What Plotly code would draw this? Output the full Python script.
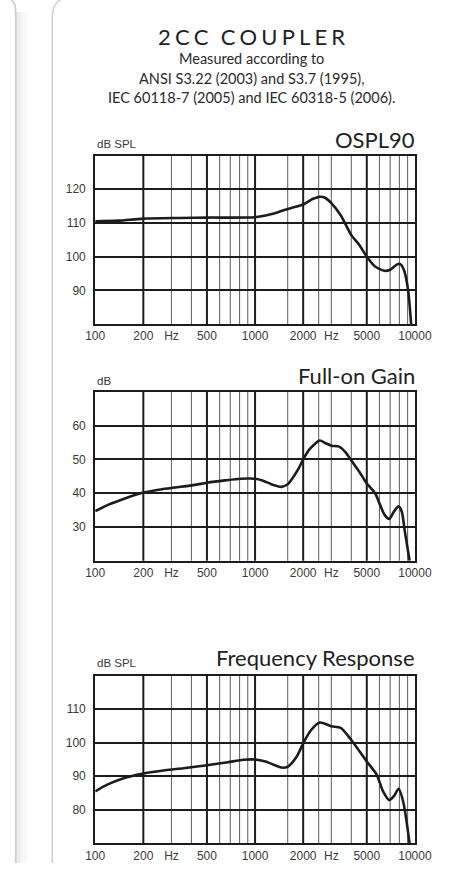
import math
import plotly.graph_objects as go

# page is 462 x 879; the figure sits inside the default 8 px body margin
PAGE_W, PAGE_H = 462, 879
OFF = 8
W, H = PAGE_W - 2 * OFF, PAGE_H - 2 * OFF

# ---- measured curves (Hz, dB) ----
ospl_freq = [100, 140, 200, 344, 500, 1000, 1163, 1392, 1669, 2000, 2287, 2540, 2740,
             3000, 3434, 4000, 4500, 5000, 5641, 6460, 7000, 7730, 8100, 8530, 9058, 9470]
ospl_db = [110.5, 110.7, 111.3, 111.5, 111.6, 111.7, 112.2, 113.2, 114.4, 115.5, 117.1, 117.8, 117.5,
           115.9, 112.3, 106.4, 103.4, 100.0, 97.1, 95.8, 96.1, 97.7, 97.8, 96.1, 90.2, 80.0]

gain_freq = [100, 122, 146, 200, 262, 412, 500, 647, 811, 1000, 1112, 1273, 1458, 1594, 1706,
             1867, 2000, 2188, 2541, 2740, 3000, 3356, 3673, 4000, 4500, 5000, 5641, 6000,
             6460, 6916, 7396, 7911, 8271, 8650, 9261]
gain_db = [34.7, 36.7, 38.1, 40.2, 41.2, 42.4, 43.1, 43.8, 44.3, 44.3, 43.8, 42.6, 41.9, 42.6, 44.3,
           47.2, 50.0, 53.0, 55.6, 54.9, 54.1, 53.8, 52.2, 49.7, 46.3, 42.9, 40.0, 37.0,
           33.6, 32.4, 34.6, 36.1, 34.6, 28.7, 20.0]

resp_freq = [100, 119, 146, 200, 274, 356, 500, 677, 848, 1000, 1163, 1458, 1594, 1825, 2000,
             2236, 2540, 3000, 3434, 4000, 5000, 5766, 6310, 6916, 7396, 7911, 8471, 9260]
resp_db = [85.5, 87.5, 89.2, 90.8, 91.8, 92.4, 93.3, 94.2, 94.9, 95.0, 94.4, 92.6, 92.8, 95.9, 99.8,
           103.7, 106.0, 104.9, 104.4, 100.8, 94.4, 90.5, 85.6, 82.9, 84.1, 86.3, 82.2, 70.0]

# ---- axes annotations ----
freq_tickvals = [100, 200, 300, 500, 1000, 2000, 3000, 5000, 10000]
freq_ticktext = ["100", "200", "Hz", "500", "1000", "2000", "Hz", "5000", "10000"]
major_grid = [200, 500, 1000, 2000, 5000]
minor_grid = [300, 400, 600, 700, 800, 900, 1600, 2500, 3000, 4000, 6000, 7000, 8000, 9000]

panels = [
    dict(title="OSPL90", unit="dB SPL", freq=ospl_freq, db=ospl_db,
         yrange=[80, 130], yticks=[90, 100, 110, 120], top=164.7, bottom=334.3, title_y=148, unit_y=153),
    dict(title="Full-on Gain", unit="dB", freq=gain_freq, db=gain_db,
         yrange=[20, 70], yticks=[30, 40, 50, 60], top=402.7, bottom=572.7, title_y=386, unit_y=391.5),
    dict(title="Frequency Response", unit="dB SPL", freq=resp_freq, db=resp_db,
         yrange=[70, 120], yticks=[80, 90, 100, 110], top=688.3, bottom=857.3, title_y=670, unit_y=675.5),
]

PLOT_L, PLOT_R = 98.7, 439.0
INK = "#1c1c1c"
LABEL = "#3a3a3a"
TICK_FONT = dict(family="Liberation Sans Narrow, Arial Narrow, Liberation Sans, Arial", size=12, color=LABEL)
HEAD_FONT = "Lato, Noto Sans, sans-serif"


def px(x):
    # page pixel -> paper fraction
    return (x - OFF) / W


def py(y):
    return 1 - (y - OFF) / H


def freq_to_paper(f):
    # log-frequency position across the 100 Hz - 10 kHz span
    frac = (math.log10(f) - 2.0) / 2.0
    return px(PLOT_L + frac * (PLOT_R - PLOT_L))


fig = go.Figure()
shapes = []
annotations = []

for i, p in enumerate(panels, start=1):
    sx = "" if i == 1 else str(i)
    xa, ya = "x" + sx, "y" + sx
    fig.add_trace(go.Scatter(
        x=p["freq"], y=p["db"], mode="lines", xaxis=xa, yaxis=ya,
        line=dict(color=INK, width=2.6, shape="spline", smoothing=0.7),
        hoverinfo="skip", showlegend=False,
    ))
    dom_y = [py(p["bottom"]), py(p["top"])]
    fig.layout["xaxis" + sx] = dict(
        type="log", range=[2, 4], domain=[px(PLOT_L), px(PLOT_R)], anchor=ya,
        tickmode="array", tickvals=freq_tickvals, ticktext=freq_ticktext,
        showgrid=False, zeroline=False, showline=True, mirror=True,
        linecolor=INK, linewidth=2, ticks="", tickfont=TICK_FONT, fixedrange=True,
        ticklabeloverflow="allow",
    )
    fig.layout["yaxis" + sx] = dict(
        range=p["yrange"], domain=dom_y, anchor=xa,
        tickmode="array", tickvals=p["yticks"],
        showgrid=True, gridcolor=INK, gridwidth=1.8, zeroline=False,
        showline=True, mirror=True, linecolor=INK, linewidth=2, ticks="",
        tickfont=TICK_FONT, ticklabelstandoff=5, fixedrange=True,
    )
    for freqs, colour, width in ((minor_grid, "#6a6a6a", 1.1), (major_grid, INK, 2)):
        for f in freqs:
            xp = freq_to_paper(f)
            shapes.append(dict(type="line", xref="paper", yref="paper",
                               x0=xp, x1=xp, y0=dom_y[0], y1=dom_y[1],
                               line=dict(color=colour, width=width), layer="below"))
    annotations.append(dict(text=p["title"], xref="paper", yref="paper",
                            x=px(441.5), y=py(p["title_y"]), xanchor="right", yanchor="middle",
                            showarrow=False,
                            font=dict(family=HEAD_FONT, size=22, color="#222222")))
    annotations.append(dict(text=p["unit"], xref="paper", yref="paper",
                            x=px(98.0), y=py(p["unit_y"]), xanchor="left", yanchor="middle",
                            showarrow=False,
                            font=dict(family=TICK_FONT["family"], size=11.5, color=LABEL)))

# ---- heading ----
gap = "\u2009\u200a"
heading = gap.join("2CC") + gap * 3 + gap.join("COUPLER")
annotations.append(dict(text=heading, xref="paper", yref="paper", x=px(265), y=py(45),
                        xanchor="center", yanchor="middle", showarrow=False,
                        font=dict(family=HEAD_FONT, size=22, color="#222222")))
sub_lines = ["Measured according to",
             "ANSI S3.22 (2003) and S3.7 (1995),",
             "IEC 60118-7 (2005) and IEC 60318-5 (2006)."]
for text, yy in zip(sub_lines, [67, 87, 106.5]):
    annotations.append(dict(text=text, xref="paper", yref="paper", x=px(265), y=py(yy),
                            xanchor="center", yanchor="middle", showarrow=False,
                            font=dict(family=HEAD_FONT, size=14.5, color="#2a2a2a")))


# ---- card outlines ----
def path(points):
    out = []
    for cmd, pts in points:
        coords = " ".join(f"{px(x):.5f},{py(y):.5f}" for x, y in pts)
        out.append(f"{cmd}{coords}")
    return " ".join(out)


card_path = path([("M", [(53, 890)]), ("L", [(53, 26)]), ("Q", [(53, 5), (74, 5)]), ("L", [(475, 5)])])
shapes.append(dict(type="path", xref="paper", yref="paper", path=card_path,
                   line=dict(color="#cfcfcf", width=1.6), layer="below"))

# shadow strip beside the neighbouring card
for k, op in enumerate([0.10, 0.08, 0.06, 0.045, 0.03, 0.018]):
    shapes.append(dict(type="rect", xref="paper", yref="paper",
                       x0=px(14 + 2 * k), x1=px(16 + 2 * k), y0=py(890), y1=py(20),
                       line=dict(width=0), fillcolor=f"rgba(0,0,0,{op})", layer="below"))
left_path = path([("M", [(-10, 5)]), ("L", [(0, 5)]), ("Q", [(14, 5), (14, 19)]), ("L", [(14, 890)])])
shapes.append(dict(type="path", xref="paper", yref="paper", path=left_path,
                   line=dict(color="#cfcfcf", width=1.6), layer="below"))

fig.update_layout(
    width=W, height=H, margin=dict(l=0, r=0, t=0, b=0),
    paper_bgcolor="white", plot_bgcolor="rgba(0,0,0,0)",
    shapes=shapes, annotations=annotations, showlegend=False,
)

fig.write_html("out.html", config={"displayModeBar": False})
